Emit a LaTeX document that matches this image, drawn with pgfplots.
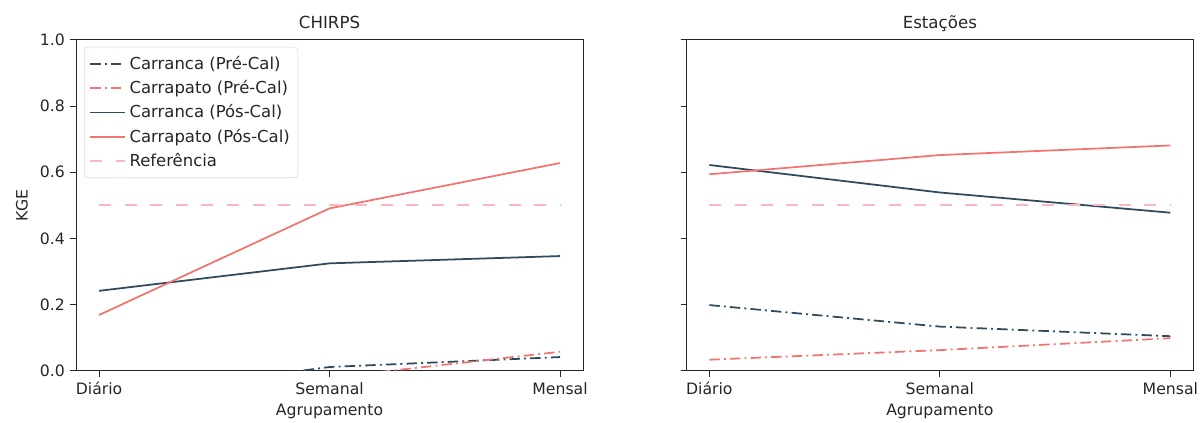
\documentclass[border=0pt]{standalone}
\usepackage{pgfplots}
\pgfplotsset{compat=1.18}
\usepackage{fontspec}
\setmainfont{DejaVu Sans}
\definecolor{dark}{HTML}{2E4A5C}
\definecolor{salmon}{HTML}{F07470}
\definecolor{refc}{HTML}{FBB8C2}
\newcommand{\fs}{\fontsize{9.8}{11.5}\selectfont}
\pgfplotsset{
  common/.style={
    scale only axis, width=317pt, height=207pt,
    xmin=-0.1, xmax=2.1, ymin=0, ymax=1,
    xtick={0,1,2}, xticklabels={Diário,Semanal,Mensal},
    ytick={0,0.2,0.4,0.6,0.8,1.0},
    tick align=outside, tick pos=left,
    major tick length=3.5pt,
    axis line style={black!85, line width=0.6pt},
    every tick/.style={black!85, line width=0.6pt},
    tick label style={font=\fs, text=black!85},
    label style={font=\fs, text=black!85},
    /pgf/number format/assume math mode=true,
    /pgf/number format/fixed, /pgf/number format/fixed zerofill,
    /pgf/number format/precision=1,
    xlabel={Agrupamento},
    xlabel style={at={(axis description cs:0.5,0)}, anchor=base, yshift=-28pt},
    title style={font=\fontsize{10.4}{12}\selectfont, text=black!85, at={(axis description cs:0.5,1)}, anchor=base, yshift=1.3pt},
    legend image code/.code={\draw[#1] (0pt,0pt) -- (22pt,0pt);},
  },
  dd/.style={line width=1.1pt, dash pattern=on 6.5pt off 2.6pt on 1.2pt off 2.6pt},
  sol/.style={line width=1.1pt},
  refl/.style={line width=1.2pt, refc, dash pattern=on 7.5pt off 8.5pt},
}
\begin{document}
\begin{tikzpicture}
\useasboundingbox (0,0) rectangle (752pt,264.4pt);
\begin{axis}[common, at={(47.5pt,32.5pt)}, anchor=south west,
  title={CHIRPS}, ylabel={KGE},
  ylabel style={at={(axis description cs:-0.1066,0.5)}, anchor=center},
  legend style={at={(0.016,0.979)}, anchor=north west, draw=black!15, rounded corners=2pt,
    fill=white, fill opacity=0.8, text opacity=1, font=\fontsize{10.3}{11.5}\selectfont, text=black!85,
    row sep=1.5pt, inner xsep=3pt, inner ysep=3.5pt,
    /tikz/every even column/.append style={column sep=9pt}},
  legend cell align=left]
\addplot[dark, dd] coordinates {(0,-0.08) (1,0.012) (2,0.042)};
\addlegendentry{Carranca (Pré-Cal)}
\addplot[salmon, dd] coordinates {(0,-0.2) (1,-0.02) (2,0.058)};
\addlegendentry{Carrapato (Pré-Cal)}
\addplot[dark, sol] coordinates {(0,0.242) (1,0.325) (2,0.347)};
\addlegendentry{Carranca (Pós-Cal)}
\addplot[salmon, sol] coordinates {(0,0.169) (1,0.491) (2,0.628)};
\addlegendentry{Carrapato (Pós-Cal)}
\addplot[refl] coordinates {(0,0.5) (1,0.5) (2,0.5)};
\addlegendentry{Referência}
\end{axis}
\begin{axis}[common, at={(429pt,32.5pt)}, anchor=south west,
  title={Estações}, yticklabels={}]
\addplot[dark, dd] coordinates {(0,0.199) (1,0.134) (2,0.105)};
\addplot[salmon, dd] coordinates {(0,0.034) (1,0.063) (2,0.099)};
\addplot[dark, sol] coordinates {(0,0.622) (1,0.539) (2,0.478)};
\addplot[salmon, sol] coordinates {(0,0.594) (1,0.652) (2,0.681)};
\addplot[refl] coordinates {(0,0.5) (1,0.5) (2,0.5)};
\end{axis}
\end{tikzpicture}
\end{document}
